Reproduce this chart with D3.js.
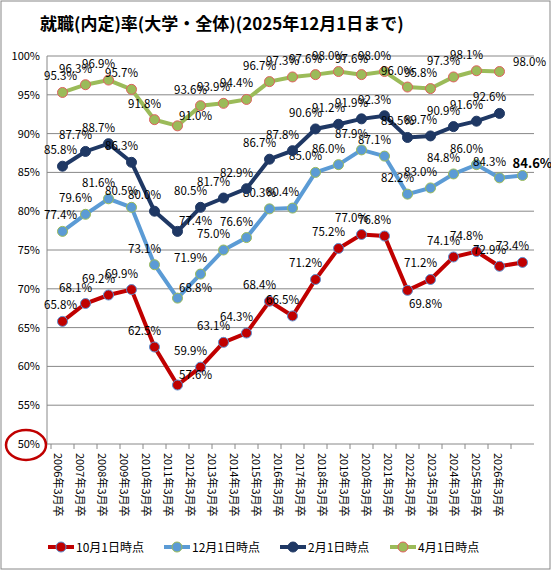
<!DOCTYPE html><html><head><meta charset="utf-8"><script src="https://cdn.jsdelivr.net/npm/d3@7"></script>
<style>body{margin:0;background:#fff}text{font-family:"Noto Sans CJK JP",sans-serif}</style></head><body><svg id="c" width="551" height="570"></svg><script>
const years=["2006","2007","2008","2009","2010","2011","2012","2013","2014","2015","2016","2017","2018","2019","2020","2021","2022","2023","2024","2025","2026"];
const cats=years.map(y=>y+"年3月卒");
const oct=[65.8,68.1,69.2,69.9,62.5,57.6,59.9,63.1,64.3,68.4,66.5,71.2,75.2,77.0,76.8,69.8,71.2,74.1,74.8,72.9,73.4];
const dec=[77.4,79.6,81.6,80.5,73.1,68.8,71.9,75.0,76.6,80.3,80.4,85.0,86.0,87.9,87.1,82.2,83.0,84.8,86.0,84.3,84.6];
const feb=[85.8,87.7,88.7,86.3,80.0,77.4,80.5,81.7,82.9,86.7,87.8,90.6,91.2,91.9,92.3,89.5,89.7,90.9,91.6,92.6];
const apr=[95.3,96.3,96.9,95.7,91.8,91.0,93.6,93.9,94.4,96.7,97.3,97.6,98.0,97.6,98.0,96.0,95.8,97.3,98.1,98.0];
const yTicks=[50,55,60,65,70,75,80,85,90,95,100];
const series=[
 {name:"10月1日時点",v:oct,line:"#c00000",fill:"#c00000",stroke:"#5b8fd0"},
 {name:"12月1日時点",v:dec,line:"#5b9bd5",fill:"#5b9bd5",stroke:"#9bbb59"},
 {name:"2月1日時点",v:feb,line:"#1f3864",fill:"#1f3864",stroke:"#1f3864"},
 {name:"4月1日時点",v:apr,line:"#9bbb59",fill:"#9bbb59",stroke:"#e06060"}];
const svg=d3.select("#c");
svg.append("rect").attr("x",1).attr("y",1).attr("width",549).attr("height",568).attr("fill","#fff").attr("stroke","#888");
const x=d3.scaleBand().domain(cats).range([51,534]);
const y=d3.scaleLinear().domain([50,100]).range([444,56]);
const g=svg.append("g");
yTicks.forEach(t=>{g.append("line").attr("x1",47).attr("x2",534).attr("y1",y(t)).attr("y2",y(t)).attr("stroke","#888");
 g.append("text").attr("x",40).attr("y",y(t)+4).attr("text-anchor","end").attr("font-size",11).text(t+"%");});
g.append("line").attr("x1",47).attr("x2",47).attr("y1",56).attr("y2",444).attr("stroke","#888");
cats.forEach((c,i)=>{g.append("line").attr("x1",x(c)).attr("x2",x(c)).attr("y1",444).attr("y2",449).attr("stroke","#888");
 g.append("text").attr("transform",`translate(${54+i*22},453) rotate(90)`).attr("font-size",11).text(c);});
svg.append("ellipse").attr("cx",26).attr("cy",445).attr("rx",20).attr("ry",15).attr("fill","none").attr("stroke","#c00000").attr("stroke-width",2.5);
const cx=i=>x(cats[i])+x.bandwidth()/2;
series.forEach(s=>{
 svg.append("path").datum(s.v).attr("fill","none").attr("stroke",s.line).attr("stroke-width",4)
  .attr("d",d3.line().x((d,i)=>cx(i)).y(d=>y(d)));
 s.v.forEach((d,i)=>svg.append("circle").attr("cx",cx(i)).attr("cy",y(d)).attr("r",5).attr("fill",s.fill).attr("stroke",s.stroke).attr("stroke-width",1));
 s.v.forEach((d,i)=>{const last=(s.name=="12月1日時点"&&i==20);
  let tx=cx(i)-10,ty=y(d)-12;
  if(i==0){tx=cx(i)-2;}
  if(i==5){tx=cx(i)+18;ty=y(d)-6;}
  if(i==15&&s.name=="10月1日時点"){tx=cx(i)+18;ty=y(d)+18;}
  if(s.name=="4月1日時点"&&i==19){tx=cx(i)+30;ty=y(d)-6;}
  if(last){tx=cx(i)+10;ty=y(d)-8;}
  svg.append("text").attr("x",tx).attr("y",ty).attr("text-anchor","middle").attr("font-size",last?13:11.5).attr("font-weight",last?"bold":"normal").text(d.toFixed(1)+"%");});
});
svg.append("text").attr("x",40).attr("y",30).attr("font-size",17).attr("font-weight","bold").text("就職(内定)率(大学・全体)(2025年12月1日まで)");
const lg=svg.append("g");
const lx=[48,164,280,390];
series.forEach((s,i)=>{const gg=lg.append("g").attr("transform",`translate(${lx[i]},547)`);
 gg.append("line").attr("x1",0).attr("x2",26).attr("stroke",s.line).attr("stroke-width",4);
 gg.append("circle").attr("cx",13).attr("r",5).attr("fill",s.fill).attr("stroke",s.stroke);
 gg.append("text").attr("x",28).attr("y",5).attr("font-size",12).text(s.name);});
</script></body></html>
